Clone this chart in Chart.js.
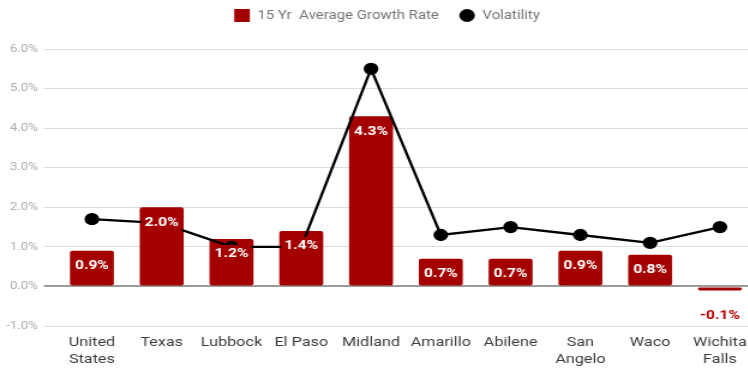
<!DOCTYPE html>
<html>
<head>
<meta charset="utf-8">
<script src="https://cdn.jsdelivr.net/npm/chart.js@4"></script>
<style>
  html, body { margin: 0; padding: 0; background: #fff; overflow: hidden; }
  /* the chart is laid out narrow and widened 1.2x */
  #wrap {
    position: relative;
    width: 646px;
    height: 371px;
    transform: scaleX(1.2);
    transform-origin: 0 0;
  }
</style>
</head>
<body>
<div id="wrap"><canvas id="chart"></canvas></div>
<script>
// Metro areas compared
const categories = [
  ['United', 'States'], 'Texas', 'Lubbock', 'El Paso', 'Midland',
  'Amarillo', 'Abilene', ['San', 'Angelo'], 'Waco', ['Wichita', 'Falls']
];
// 15-year average growth rate (%)
const growthRate = [0.9, 2.0, 1.2, 1.4, 4.3, 0.7, 0.7, 0.9, 0.8, -0.1];
// Volatility (%)
const volatility = [1.7, 1.6, 1.0, 1.0, 5.5, 1.3, 1.5, 1.3, 1.1, 1.5];
// Value axis ticks
const yTicks = [-1, 0, 1, 2, 3, 4, 5, 6];

const BAR_RED = '#a50000';
const FONT = 'Roboto, "Noto Sans", sans-serif';

// Writes the growth-rate value on each bar
const barValueLabels = {
  id: 'barValueLabels',
  afterDatasetsDraw(chart) {
    const idx = chart.data.datasets.findIndex(d => d.type === 'bar');
    const meta = chart.getDatasetMeta(idx);
    const ctx = chart.ctx;
    ctx.save();
    ctx.font = 'bold 13px ' + FONT;
    ctx.textAlign = 'center';
    ctx.textBaseline = 'middle';
    meta.data.forEach((bar, i) => {
      const v = growthRate[i];
      const text = v.toFixed(1) + '%';
      if (v >= 0) {
        const w = ctx.measureText(text).width + 5;
        const y = bar.y + 15;
        ctx.fillStyle = BAR_RED;
        ctx.fillRect(bar.x - w / 2, y - 9, w, 18);
        ctx.fillStyle = '#ffffff';
        ctx.fillText(text, bar.x, y);
      } else {
        ctx.fillStyle = '#b30000';
        ctx.fillText(text, bar.x, bar.base + 28);
      }
    });
    ctx.restore();
  }
};

new Chart(document.getElementById('chart'), {
  data: {
    labels: categories,
    datasets: [
      {
        type: 'line',
        label: 'Volatility',
        data: volatility,
        borderColor: '#000',
        backgroundColor: '#000',
        borderWidth: 2.3,
        pointRadius: 5,
        pointHoverRadius: 5,
        pointBackgroundColor: '#000',
        tension: 0,
        order: 1
      },
      {
        type: 'bar',
        label: '15 Yr  Average Growth Rate',
        data: growthRate,
        backgroundColor: BAR_RED,
        borderRadius: 2,
        borderSkipped: false,
        barPercentage: 0.63,
        categoryPercentage: 1.0,
        order: 2
      }
    ]
  },
  options: {
    responsive: true,
    maintainAspectRatio: false,
    animation: false,
    layout: { padding: { top: -8, right: 1, bottom: 0, left: 0 } },
    plugins: {
      tooltip: { enabled: false },
      legend: {
        position: 'top',
        reverse: true,
        labels: {
          font: { family: FONT, size: 12.5 },
          color: '#757575',
          boxWidth: 13,
          boxHeight: 13,
          padding: 17,
          useBorderRadius: true,
          generateLabels(chart) {
            const items = Chart.defaults.plugins.legend.labels.generateLabels(chart);
            items.forEach(item => {
              const ds = chart.data.datasets[item.datasetIndex];
              item.borderRadius = ds.type === 'line' ? 6.5 : 0;
              item.lineWidth = 0;
              item.fillStyle = ds.type === 'line' ? '#000' : BAR_RED;
            });
            return items;
          }
        }
      }
    },
    scales: {
      x: {
        grid: { display: false, drawTicks: false },
        border: { display: false },
        afterFit(scale) { scale.height = 45; },
        ticks: {
          color: '#3c3c3c',
          font: { family: FONT, size: 13.5 },
          padding: 9,
          maxRotation: 0,
          autoSkip: false
        }
      },
      // empty band between the legend and the plot
      xTop: {
        type: 'category',
        position: 'top',
        grid: { display: false, drawTicks: false },
        border: { display: false },
        ticks: { display: false },
        afterFit(scale) { scale.height = 17; }
      },
      y: {
        min: -1,
        max: 6,
        afterBuildTicks(scale) {
          scale.ticks = yTicks.map(v => ({ value: v }));
        },
        afterFit(scale) { scale.width = 47.5; },
        grid: {
          color: c => (c.tick && c.tick.value === 0 ? '#9a9a9a' : '#dcdcdc'),
          lineWidth: c => (c.tick && c.tick.value === 0 ? 2 : 1),
          drawTicks: true,
          tickLength: 11
        },
        border: { display: false },
        ticks: {
          color: '#ababab',
          font: { family: FONT, size: 11 },
          padding: 5,
          callback: v => Number(v).toFixed(1) + '%'
        }
      },
      // empty margin on the right, runs past the visible edge
      yRight: {
        type: 'linear',
        position: 'right',
        grid: { display: false, drawTicks: false },
        border: { display: false },
        ticks: { display: false },
        afterFit(scale) { scale.width = 16; }
      }
    }
  },
  plugins: [barValueLabels]
});
</script>
</body>
</html>
